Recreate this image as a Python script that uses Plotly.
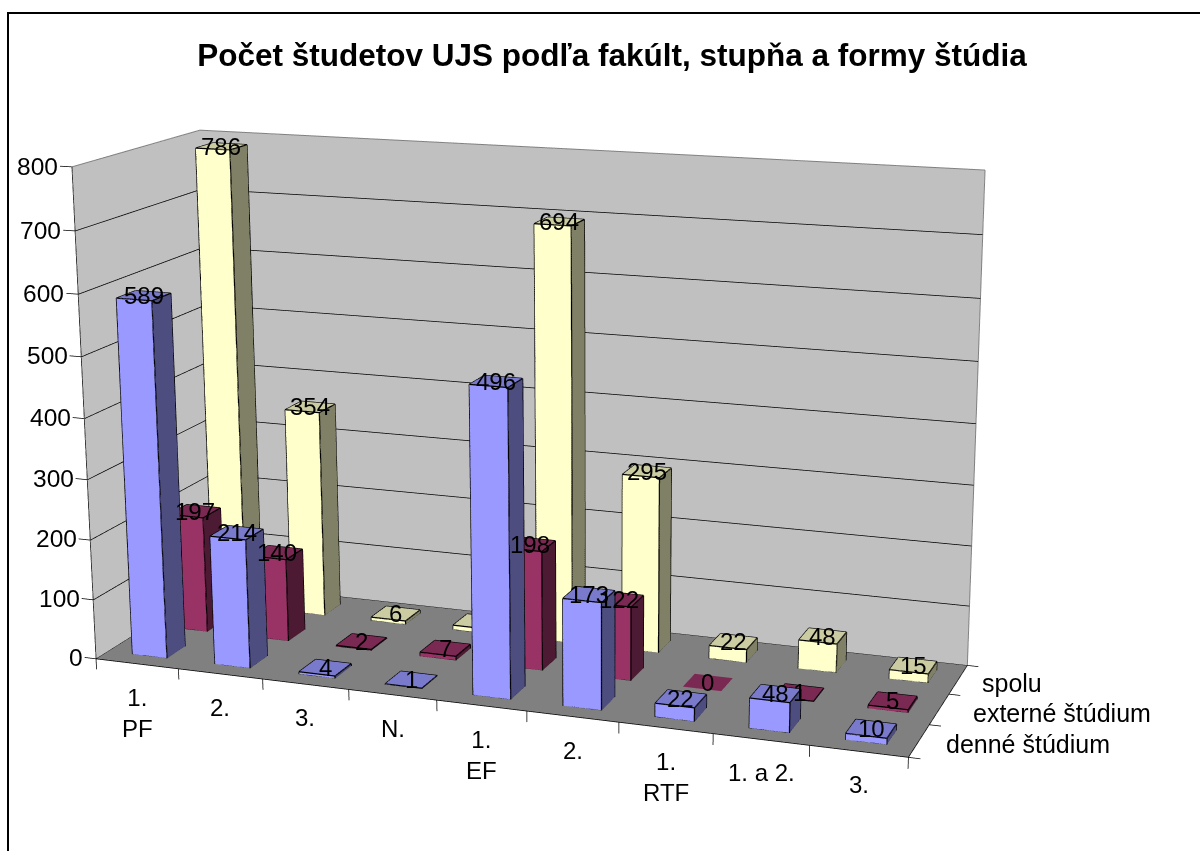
import plotly.graph_objects as go

categories = ["1.<br>PF", "2.", "3.", "N.", "1.<br>EF", "2.", "1.<br>RTF", "1. a 2.", "3."]
series_names = ["denné štúdium", "externé štúdium", "spolu"]
denne = [589, 214, 4, 1, 496, 173, 22, 48, 10]
externe = [197, 140, 2, 7, 198, 122, 0, 1, 5]
spolu = [786, 354, 6, 8, 694, 295, 22, 48, 15]
z_ticks = [0, 100, 200, 300, 400, 500, 600, 700, 800]
hidden_labels = {(2, 3)}  # the label of this bar sits behind a front bar in the reference

XR = (-0.15, 9.15); YR = (-0.01, 3.01); ZR = (-20, 805)
W = 1200
# Perspective of the Excel chart is much flatter than a 851 px scene allows, so the scene is taller
# than the window and is shifted up, keeping its optical centre at the chart's.
H = 2237
CY = 432.5
MT = CY - H / 2
EYE = (2.0970, -5.5825, 1.5139)
CTR = (0.1722, 0.0, -0.0016)
ASPECT = (2.0, 0.6224, 1.1946)
def py(y): return 1 - (y - MT) / H

fig = go.Figure()
FLAT = dict(ambient=1, diffuse=0, specular=0, fresnel=0, roughness=1)

def lines(segs, color="black", width=1.5):
    ex = []; ey = []; ez = []
    for a, b in segs:
        ex += [a[0], b[0], None]; ey += [a[1], b[1], None]; ez += [a[2], b[2], None]
    fig.add_trace(go.Scatter3d(x=ex, y=ey, z=ez, mode="lines", line=dict(color=color, width=width), hoverinfo="skip", showlegend=False))

def box(c, s, v, cols):
    x0, x1 = c + 0.30, c + 0.72; y0, y1 = s + 0.28, s + 0.72; z0, z1 = 0, max(v, 0.5)
    xs = [x0, x1, x1, x0, x0, x1, x1, x0]; ys = [y0, y0, y1, y1, y0, y0, y1, y1]; zs = [z0, z0, z0, z0, z1, z1, z1, z1]
    tri = [(0, 1, 5), (0, 5, 4), (1, 2, 6), (1, 6, 5), (4, 5, 6), (4, 6, 7), (3, 2, 6), (3, 6, 7), (0, 3, 7), (0, 7, 4), (0, 1, 2), (0, 2, 3)]
    fc = [cols[0]] * 2 + [cols[1]] * 2 + [cols[2]] * 2 + [cols[2]] * 6
    fig.add_trace(go.Mesh3d(x=xs, y=ys, z=zs, i=[t[0] for t in tri], j=[t[1] for t in tri], k=[t[2] for t in tri], facecolor=fc,
                            flatshading=True, lighting=FLAT, hoverinfo="skip", showscale=False))
    if v > 0:
        pts = list(zip(xs, ys, zs))
        lines([(pts[a], pts[b]) for a, b in [(0, 1), (1, 2), (2, 3), (3, 0), (4, 5), (5, 6), (6, 7), (7, 4), (0, 4), (1, 5), (2, 6), (3, 7)]], width=2.5)

def plane(xs, ys, zs, color):
    fig.add_trace(go.Mesh3d(x=xs, y=ys, z=zs, i=[0, 0], j=[1, 2], k=[2, 3], facecolor=[color, color], flatshading=True, lighting=FLAT, hoverinfo="skip"))

n = len(categories)
zt = z_ticks[-1]
plane([0, n, n, 0], [3, 3, 3, 3], [0, 0, zt, zt], "#c0c0c0")
plane([0, 0, 0, 0], [0, 3, 3, 0], [0, 0, zt, zt], "#c0c0c0")
plane([0, n, n, 0], [0, 0, 3, 3], [0, 0, 0, 0], "#808080")

segs = []
for z in z_ticks:
    segs.append(((-0.14, 0, z), (0.003, 0, z)))
    if z < zt:
        segs.append(((0.003, 0, z), (0.003, 2.995, z)))
        segs.append(((0.003, 2.995, z), (n, 2.995, z)))
for c in range(n + 1):
    segs.append(((c, 0, 0), (c, 0, -18)))
for s in range(4):
    segs.append(((n, s, 0), (n + 0.12, s, 0)))
segs += [((0, 0, 0), (n, 0, 0)), ((n, 0, 0), (n, 3, 0)), ((0, 0, 0), (0, 0, zt))]
lines(segs)
lines([((0, 0, zt), (0, 3, zt)), ((0, 3, zt), (n, 3, zt)), ((n, 3, 0), (n, 3, zt))], color="#808080", width=2)

cols = [("#9999ff", "#4d4d80", "#7a7acc"), ("#993366", "#4d1a33", "#7a2952"), ("#ffffcc", "#808066", "#cccca3")]
vals = [denne, externe, spolu]
for s in [2, 1, 0]:
    for c, v in enumerate(vals[s]):
        box(c, s, v, cols[s])

FONT = "Liberation Sans"
ann = []
for s in range(3):
    for c, v in enumerate(vals[s]):
        if (s, c) in hidden_labels:
            continue
        ann.append(dict(x=c + 0.51, y=s + 0.5, z=v, text=str(v), showarrow=False, font=dict(family=FONT, size=24, color="black")))
for z in z_ticks:
    ann.append(dict(x=-0.14, y=0, z=z, text=str(z), showarrow=False, xanchor="right", xshift=0, font=dict(family=FONT, size=24.5, color="black")))
for c, t in enumerate(categories):
    ann.append(dict(x=c + 0.5, y=0, z=0, text=t, showarrow=False, yanchor="top", yshift=-18, font=dict(family=FONT, size=24, color="black")))
for s, (t, dx) in enumerate(zip(series_names, [13, 20, 11])):
    ann.append(dict(x=n + 0.12, y=s + 0.5, z=0, text=t, showarrow=False, xanchor="left", xshift=dx, yshift=-2, font=dict(family=FONT, size=25, color="black")))

ax = dict(visible=False, showgrid=False, zeroline=False, showspikes=False, showbackground=False, autorange=False)
fig.update_layout(width=W, height=H, margin=dict(l=0, r=0, t=0, b=0), showlegend=False, paper_bgcolor="white",
    title=dict(text="<b>Počet študetov UJS podľa fakúlt, stupňa a formy štúdia</b>", x=612 / 1200, xanchor="center", y=py(55), yanchor="middle", font=dict(family=FONT, size=31.5, color="black")),
    scene=dict(domain=dict(x=[0, 1], y=[0, 1]), aspectmode="manual", aspectratio=dict(x=ASPECT[0], y=ASPECT[1], z=ASPECT[2]),
               camera=dict(eye=dict(x=EYE[0], y=EYE[1], z=EYE[2]), center=dict(x=CTR[0], y=CTR[1], z=CTR[2]), up=dict(x=0, y=0, z=1), projection=dict(type="perspective")),
               xaxis=dict(ax, range=list(XR)), yaxis=dict(ax, range=list(YR)), zaxis=dict(ax, range=list(ZR)), annotations=ann),
    shapes=[dict(type="rect", xref="paper", yref="paper", x0=8 / 1200, x1=1.01, y0=py(900), y1=py(13), line=dict(color="black", width=2))])
fig.write_html("out.html", config=dict(displayModeBar=False),
    post_script="document.body.style.margin='0';document.documentElement.style.overflow='hidden';document.getElementById('{plot_id}').style.marginTop='%.1fpx';" % MT)
